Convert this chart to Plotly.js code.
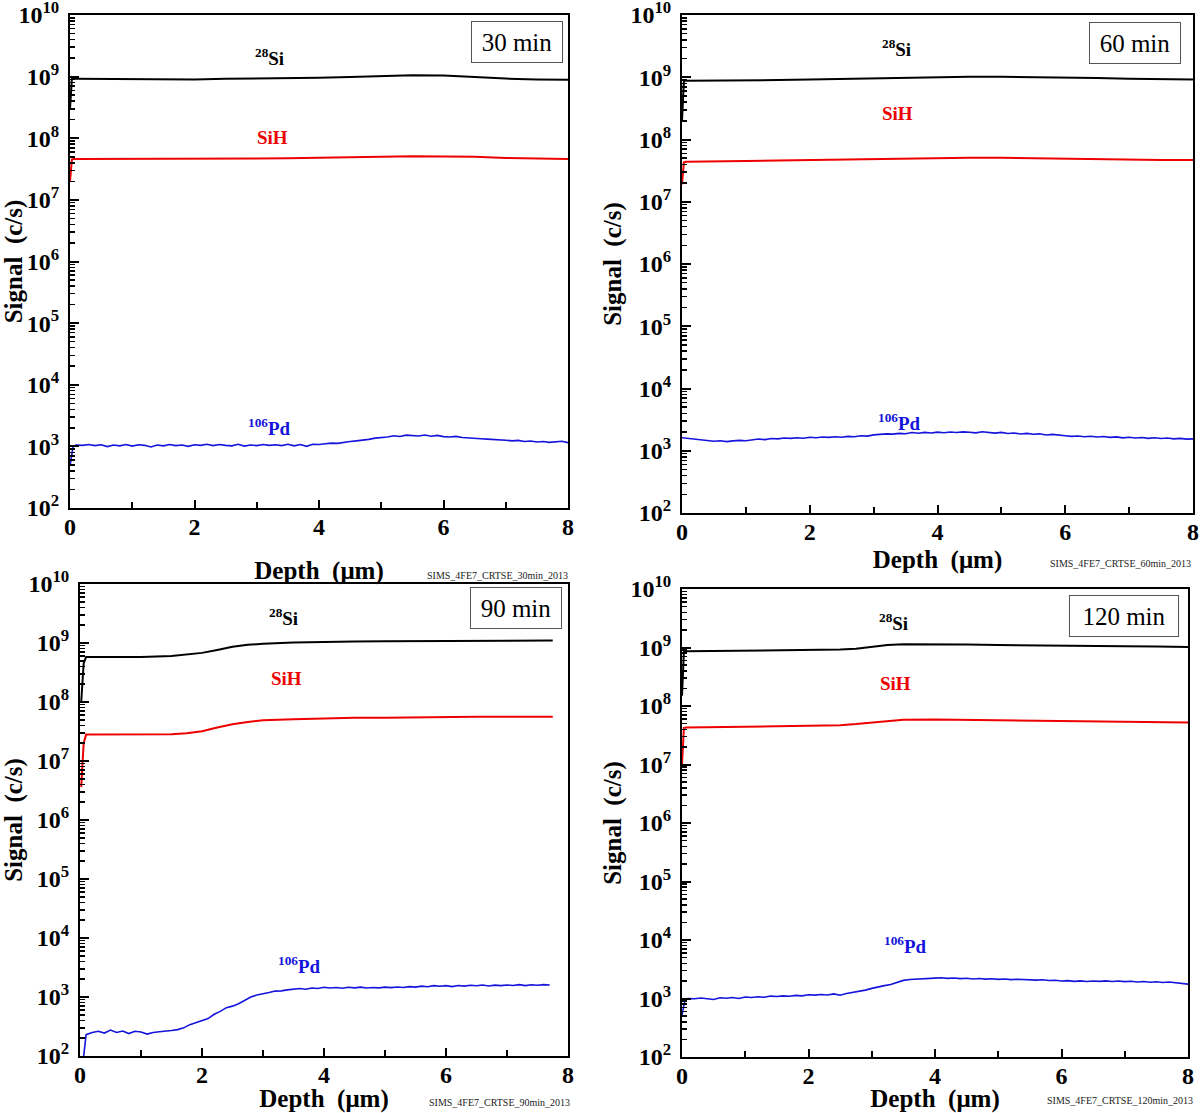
<!DOCTYPE html>
<html>
<head>
<meta charset="utf-8">
<script src="https://cdn.plot.ly/plotly-3.0.1.min.js"></script>
<style>
  html, body { margin: 0; padding: 0; background: #fff; }
  #chart { width: 1200px; height: 1113px; }
</style>
</head>
<body>
<div id="chart"></div>
<script>
// ---------------- DATA ----------------
const panelTitles = ["30 min", "60 min", "90 min", "120 min"];
const fileTags = ["SIMS_4FE7_CRTSE_30min_2013", "SIMS_4FE7_CRTSE_60min_2013",
                  "SIMS_4FE7_CRTSE_90min_2013", "SIMS_4FE7_CRTSE_120min_2013"];
const speciesNames = ["<sup>28</sup>Si", "SiH", "<sup>106</sup>Pd"];

// depth grid of the Pd profiles (µm)
const depthPd = [0, 0.05,
  0.1, 0.2, 0.3, 0.4, 0.5, 0.6, 0.7, 0.8, 0.9, 1.0,
  1.1, 1.2, 1.3, 1.4, 1.5, 1.6, 1.7, 1.8, 1.9, 2.0,
  2.1, 2.2, 2.3, 2.4, 2.5, 2.6, 2.7, 2.8, 2.9, 3.0,
  3.1, 3.2, 3.3, 3.4, 3.5, 3.6, 3.7, 3.8, 3.9, 4.0,
  4.1, 4.2, 4.3, 4.4, 4.5, 4.6, 4.7, 4.8, 4.9, 5.0,
  5.1, 5.2, 5.3, 5.4, 5.5, 5.6, 5.7, 5.8, 5.9, 6.0,
  6.1, 6.2, 6.3, 6.4, 6.5, 6.6, 6.7, 6.8, 6.9, 7.0,
  7.1, 7.2, 7.3, 7.4, 7.5, 7.6, 7.7, 7.8, 7.9, 8.0];

// 30 min
const depth30 = [0, 0.03, 0.06, 0.5, 1, 1.5, 2, 2.5, 3, 3.5, 4, 4.5, 5, 5.5, 6, 6.5, 7, 7.5, 8];
const si30  = [3e8, 9.2e8, 9.2e8, 9.1e8, 9.0e8, 8.9e8, 9.0e8, 9.2e8, 9.3e8, 9.4e8, 9.6e8, 9.9e8, 1.03e9, 1.05e9, 1.04e9, 9.8e8, 9.3e8, 9.0e8, 8.9e8];
const sih30 = [2e7, 4.5e7, 4.6e7, 4.6e7, 4.6e7, 4.6e7, 4.6e7, 4.65e7, 4.7e7, 4.75e7, 4.8e7, 4.9e7, 5.0e7, 5.1e7, 5.1e7, 5.0e7, 4.8e7, 4.7e7, 4.6e7];
const pd30 = [480, 1000,
  1050, 1040, 1070, 1030, 1060, 990, 1050, 1020, 1070, 1010,
  1060, 1040, 980, 1050, 1020, 1070, 1030, 1050, 1000, 1060,
  1040, 1080, 1030, 1070, 1040, 1020, 1080, 1010, 1050, 1030,
  1070, 1040, 1060, 1030, 1080, 1020, 1070, 1000, 1080, 1070,
  1100, 1130, 1120, 1170, 1200, 1230, 1260, 1300, 1360, 1380,
  1420, 1490, 1450, 1520, 1480, 1470, 1530, 1460, 1510, 1440,
  1420, 1450, 1390, 1380, 1350, 1330, 1310, 1300, 1270, 1260,
  1230, 1250, 1200, 1220, 1180, 1200, 1160, 1190, 1210, 1150];

// 60 min
const depth60 = [0, 0.03, 0.06, 0.5, 1, 1.5, 2, 2.5, 3, 3.5, 4, 4.5, 5, 5.5, 6, 6.5, 7, 7.5, 8];
const si60  = [2e8, 8.8e8, 8.8e8, 8.8e8, 8.9e8, 9.0e8, 9.2e8, 9.4e8, 9.6e8, 9.9e8, 1.01e9, 1.02e9, 1.02e9, 1.01e9, 9.9e8, 9.7e8, 9.5e8, 9.3e8, 9.2e8];
const sih60 = [1.9e7, 4.3e7, 4.4e7, 4.4e7, 4.5e7, 4.6e7, 4.7e7, 4.8e7, 4.9e7, 5.0e7, 5.1e7, 5.1e7, 5.1e7, 5.0e7, 4.9e7, 4.8e7, 4.8e7, 4.7e7, 4.7e7];
const pd60 = [1620, 1600,
  1580, 1540, 1500, 1470, 1420, 1450, 1400, 1440, 1470, 1450,
  1500, 1540, 1510, 1570, 1550, 1600, 1580, 1620, 1590, 1650,
  1620, 1660, 1640, 1680, 1650, 1700, 1680, 1740, 1720, 1800,
  1830, 1870, 1850, 1900, 1880, 1960, 1910, 1970, 1930, 1990,
  1950, 2000, 1960, 2010, 1980, 1940, 2020, 1960, 1920, 1970,
  1890, 1930, 1860, 1900, 1840, 1870, 1790, 1830, 1760, 1740,
  1700, 1730, 1680, 1710, 1660, 1690, 1640, 1670, 1610, 1650,
  1600, 1630, 1580, 1620, 1570, 1600, 1550, 1580, 1540, 1550];

// 90 min (profile ends near 7.7 µm)
const depth90 = [0.02, 0.06, 0.1, 0.5, 1, 1.5, 1.75, 2, 2.25, 2.5, 2.75, 3, 3.5, 4, 4.5, 5, 5.5, 6, 6.5, 7, 7.5, 7.75];
const si90  = [1e8, 4.5e8, 5.8e8, 5.8e8, 5.8e8, 6.0e8, 6.3e8, 6.8e8, 7.6e8, 8.6e8, 9.3e8, 9.7e8, 1.02e9, 1.05e9, 1.06e9, 1.07e9, 1.08e9, 1.09e9, 1.09e9, 1.09e9, 1.1e9, 1.1e9];
const sih90 = [3.6e6, 2.0e7, 2.8e7, 2.8e7, 2.8e7, 2.85e7, 2.95e7, 3.2e7, 3.7e7, 4.2e7, 4.6e7, 4.9e7, 5.1e7, 5.3e7, 5.4e7, 5.4e7, 5.5e7, 5.5e7, 5.6e7, 5.6e7, 5.6e7, 5.6e7];
const pd90 = [60, 80,
  230, 250, 262, 245, 275, 250, 265, 240, 262, 255,
  235, 250, 258, 262, 270, 280, 300, 340, 365, 395,
  430, 510, 570, 660, 700, 770, 870, 1000, 1080, 1150,
  1190, 1260, 1270, 1320, 1340, 1390, 1350, 1420, 1390, 1460,
  1420, 1450, 1410, 1460, 1430, 1470, 1420, 1450, 1430, 1470,
  1440, 1480, 1450, 1500, 1470, 1530, 1490, 1560, 1520, 1560,
  1500, 1570, 1530, 1580, 1550, 1600, 1540, 1590, 1560, 1600,
  1570, 1620, 1560, 1610, 1580, 1620, 1600];

// 120 min
const depth120 = [0, 0.03, 0.06, 0.5, 1, 1.5, 2, 2.5, 2.75, 3, 3.25, 3.5, 4, 4.5, 5, 5.5, 6, 6.5, 7, 7.5, 8];
const si120  = [1.5e8, 8.5e8, 8.6e8, 8.7e8, 8.8e8, 8.9e8, 9.0e8, 9.2e8, 9.5e8, 1.02e9, 1.1e9, 1.14e9, 1.15e9, 1.13e9, 1.1e9, 1.08e9, 1.07e9, 1.06e9, 1.05e9, 1.04e9, 1.02e9];
const sih120 = [1.0e7, 4.2e7, 4.3e7, 4.3e7, 4.4e7, 4.5e7, 4.6e7, 4.7e7, 4.9e7, 5.2e7, 5.5e7, 5.8e7, 5.9e7, 5.8e7, 5.7e7, 5.6e7, 5.5e7, 5.4e7, 5.4e7, 5.3e7, 5.2e7];
const pd120 = [520, 980,
  1000, 990, 1020, 1000, 960, 1030, 1010, 1040, 1000, 1060,
  1040, 1070, 1050, 1100, 1080, 1110, 1090, 1130, 1110, 1160,
  1140, 1170, 1150, 1200, 1140, 1220, 1270, 1350, 1390, 1490,
  1550, 1660, 1740, 1900, 2040, 2110, 2150, 2210, 2240, 2230,
  2260, 2210, 2240, 2190, 2220, 2160, 2200, 2140, 2170, 2120,
  2150, 2100, 2130, 2090, 2110, 2060, 2090, 2030, 2050, 1990,
  2020, 1960, 2000, 1950, 1990, 1960, 2000, 1950, 1990, 1940,
  1970, 1920, 1950, 1900, 1930, 1880, 1910, 1850, 1820, 1760];

// ---------------- LAYOUT / STYLE ----------------
const W = 1200, H = 1113;
const FONT = "Liberation Serif";
const colSi = "#000000", colSiH = "#ee0000", colPd = "#1414dc";

const panels = [
  { si: [depth30, si30], sih: [depth30, sih30], pd: pd30,
    box: [70, 568, 15, 508], lbl: [[3.2, 9.32], [3.25, 8.02], [3.2, 3.31], [7.18, 9.56]],
    tag: [497, 575], xStand: 23 },
  { si: [depth60, si60], sih: [depth60, sih60], pd: pd60,
    box: [682, 1193, 15, 513], lbl: [[3.36, 9.47], [3.38, 8.41], [3.41, 3.46], [7.09, 9.55]],
    tag: [1120, 563], xStand: 7 },
  { si: [depth90, si90], sih: [depth90, sih90], pd: pd90,
    box: [80, 568, 584, 1056], lbl: [[3.34, 9.44], [3.39, 8.39], [3.6, 3.54], [7.15, 9.59]],
    tag: [499, 1102], xStand: 0 },
  { si: [depth120, si120], sih: [depth120, sih120], pd: pd120,
    box: [682, 1188, 589, 1057], lbl: [[3.34, 9.44], [3.38, 8.39], [3.54, 3.91], [6.99, 9.54]],
    tag: [1120, 1100], xStand: 5 }
];

const majorY = [], majorYText = [], minorY = [];
for (let e = 2; e <= 10; e++) {
  majorY.push(Math.pow(10, e));
  majorYText.push("10<sup>" + e + "</sup>");
  if (e < 10) for (let m = 2; m <= 9; m++) minorY.push(m * Math.pow(10, e));
}

const data = [];
const layout = {
  width: W, height: H,
  margin: { l: 0, r: 0, t: 0, b: 0 },
  paper_bgcolor: "#ffffff", plot_bgcolor: "#ffffff",
  showlegend: false,
  font: { family: FONT, color: "#000" },
  annotations: []
};

panels.forEach((p, i) => {
  const n = i + 1;
  const xa = "x" + (n === 1 ? "" : n), ya = "y" + (n === 1 ? "" : n);
  const [x0, x1, yTop, yBot] = p.box;

  data.push({ x: p.si[0], y: p.si[1], xaxis: xa, yaxis: ya, type: "scatter", mode: "lines",
              line: { color: colSi, width: 2 }, name: "28Si" });
  data.push({ x: p.sih[0], y: p.sih[1], xaxis: xa, yaxis: ya, type: "scatter", mode: "lines",
              line: { color: colSiH, width: 2 }, name: "SiH" });
  data.push({ x: depthPd.slice(0, p.pd.length), y: p.pd, xaxis: xa, yaxis: ya, type: "scatter", mode: "lines",
              line: { color: colPd, width: 1.6 }, name: "106Pd" });

  layout["xaxis" + (n === 1 ? "" : n)] = {
    domain: [x0 / W, x1 / W], anchor: ya,
    range: [0, 8], tick0: 0, dtick: 2,
    ticks: "inside", ticklen: 8, tickwidth: 2, tickcolor: "#000",
    minor: { dtick: 1, ticks: "inside", ticklen: 6, tickwidth: 2, tickcolor: "#000", showgrid: false },
    showline: true, linewidth: 2, linecolor: "#000", mirror: true,
    showgrid: false, zeroline: false,
    ticklabelstandoff: -4, ticklabeloverflow: "allow",
    tickfont: { family: FONT, size: 24, weight: "bold", color: "#000" },
    title: { text: "Depth\u00a0 (μm)", standoff: p.xStand,
             font: { family: FONT, size: 25, weight: "bold", color: "#000" } }
  };
  layout["yaxis" + (n === 1 ? "" : n)] = {
    domain: [1 - yBot / H, 1 - yTop / H], anchor: xa,
    type: "log", range: [2, 10],
    tickmode: "array", tickvals: majorY, ticktext: majorYText,
    ticks: "inside", ticklen: 9, tickwidth: 2, tickcolor: "#000",
    minor: { tickmode: "array", tickvals: minorY, ticks: "inside", ticklen: 5, tickwidth: 1.5, tickcolor: "#000", showgrid: false },
    showline: true, linewidth: 2, linecolor: "#000", mirror: true,
    showgrid: false, zeroline: false,
    ticklabelstandoff: 4, ticklabeloverflow: "allow",
    tickfont: { family: FONT, size: 24, weight: "bold", color: "#000" },
    title: { text: "Signal\u00a0 (c/s)", standoff: 2,
             font: { family: FONT, size: 25, weight: "bold", color: "#000" } }
  };

  const cols = [colSi, colSiH, colPd];
  speciesNames.forEach((s, k) => {
    layout.annotations.push({
      xref: xa, yref: ya, x: p.lbl[k][0], y: p.lbl[k][1],
      text: s, showarrow: false, xanchor: "center", yanchor: "middle",
      font: { family: FONT, size: 19, weight: "bold", color: cols[k] }
    });
  });
  layout.annotations.push({
    xref: xa, yref: ya, x: p.lbl[3][0], y: p.lbl[3][1],
    text: panelTitles[i], showarrow: false, xanchor: "center", yanchor: "middle",
    font: { family: FONT, size: 25, color: "#000" },
    bordercolor: "#555", borderwidth: 1, borderpad: 4,
    width: i === 3 ? 100 : 82, height: 32, bgcolor: "#fff"
  });
  layout.annotations.push({
    xref: "paper", yref: "paper", x: p.tag[0] / W, y: 1 - p.tag[1] / H,
    xanchor: "center", yanchor: "middle",
    text: fileTags[i], showarrow: false,
    font: { family: FONT, size: 10, color: "#222" }
  });
});

Plotly.newPlot("chart", data, layout, { displayModeBar: false, staticPlot: true });
</script>
</body>
</html>
